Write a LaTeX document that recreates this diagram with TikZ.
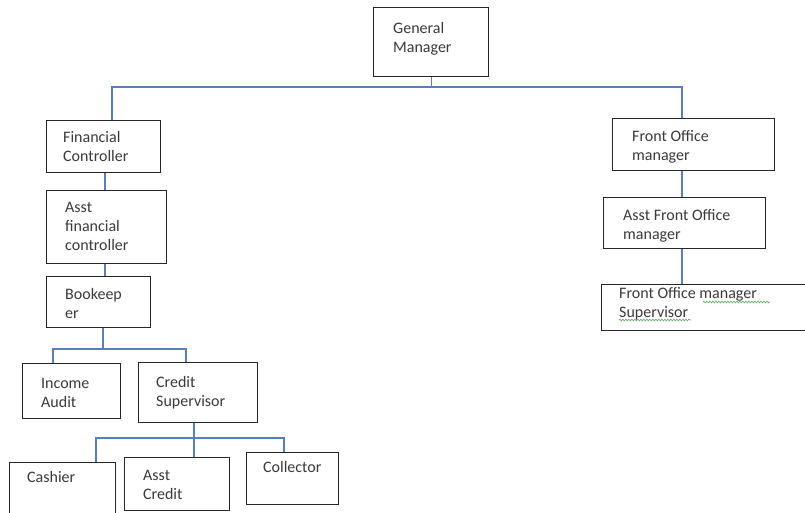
\documentclass[tikz,border=0pt]{standalone}
\usepackage{fontspec}
\setmainfont{Carlito}
\usetikzlibrary{decorations.pathmorphing}
\definecolor{conncol}{HTML}{5A7FB8}
\definecolor{txtcol}{HTML}{3A3A3A}
\definecolor{boxcol}{HTML}{262626}
\definecolor{wavecol}{HTML}{6FA86F}
\tikzset{
  box/.style={draw=boxcol, line width=1.3pt, inner sep=0pt, anchor=north west, fill=white},
  lbl/.style={anchor=north west, inner sep=0pt, text=txtcol, font=\fontsize{16}{19}\selectfont, align=left, execute at begin node=\strut},
  conn/.style={draw=conncol, line width=1.3pt},
  wavy/.style={draw=wavecol, line width=0.7pt, decorate, decoration={snake, amplitude=0.8pt, segment length=3pt}}
}
\begin{document}
\begin{tikzpicture}[x=1pt,y=-1pt]
\useasboundingbox (0,0) rectangle (805,512);
\clip (0,0) rectangle (805,512);
\fill[white] (0,0) rectangle (805,512);

% boxes
\node[box, minimum width=115pt, minimum height=69pt] (gm) at (373,7) {};
\node[box, minimum width=114pt, minimum height=52pt] (fc) at (46,120) {};
\node[box, minimum width=120pt, minimum height=73pt] (afc) at (46,190) {};
\node[box, minimum width=104pt, minimum height=51pt] (bk) at (46,276) {};
\node[box, minimum width=98pt, minimum height=55pt] (ia) at (22,363) {};
\node[box, minimum width=119pt, minimum height=60pt] (cs) at (138,362) {};
\node[box, minimum width=106pt, minimum height=70pt] (cash) at (9,462) {};
\node[box, minimum width=105pt, minimum height=53pt] (ac) at (124,457) {};
\node[box, minimum width=92pt, minimum height=52pt] (col) at (246,452) {};
\node[box, minimum width=162pt, minimum height=52pt] (fom) at (612,118) {};
\node[box, minimum width=162pt, minimum height=51pt] (afom) at (603,197) {};
\node[box, minimum width=210pt, minimum height=46pt] (foms) at (601,284) {};

% connectors
\draw[conn] (gm.south) -- (gm.south |- 0,87) coordinate (bus);
\draw[conn] (112,0 |- fc.north) |- (bus) -| (682,0 |- fom.north);
\draw[conn] (105,0 |- fc.south) -- (105,0 |- afc.north);
\draw[conn] (105,0 |- afc.south) -- (105,0 |- bk.north);
\draw[conn] (103,0 |- bk.south) -- (103,349) coordinate (bus2);
\draw[conn] (53,0 |- ia.north) |- (bus2) -| (186,0 |- cs.north);
\draw[conn] (194,0 |- cs.south) -- (194,438) coordinate (bus3);
\draw[conn] (96,0 |- cash.north) |- (bus3) -| (284,0 |- col.north);
\draw[conn] (bus3) -- (194,0 |- ac.north);
\draw[conn] (682,0 |- fom.south) -- (682,0 |- afom.north);
\draw[conn] (682,0 |- afom.south) -- (682,0 |- foms.north);

% labels
\node[lbl] (tgm) at (393,21.7) {General\\Manager};
\node[lbl] (tfc) at (63,130.7) {Financial\\Controller};
\node[lbl] (tafc) at (65,201.7) {Asst\\financial\\controller};
\node[lbl] (tbk) at (65,287.7) {Bookeep\\er};
\node[lbl] (tia) at (41,377.7) {Income\\Audit};
\node[lbl] (tcs) at (156,375.7) {Credit\\Supervisor};
\node[lbl] (tcash) at (27,468.7) {Cashier};
\node[lbl] (tac) at (143,469.7) {Asst\\Credit};
\node[lbl] (tcol) at (263,458.7) {Collector};
\node[lbl] (tfom) at (632,130.7) {Front Office\\manager};
\node[lbl] (tafom) at (623,209.7) {Asst Front Office\\manager};
\node[lbl] (tfoms) at (619,287.7) {Front Office manager\\Supervisor};

% grammar-check underlines
\draw[wavy] (703,302) -- (770,302);
\draw[wavy] (619,320) -- (691,320);
\end{tikzpicture}
\end{document}
